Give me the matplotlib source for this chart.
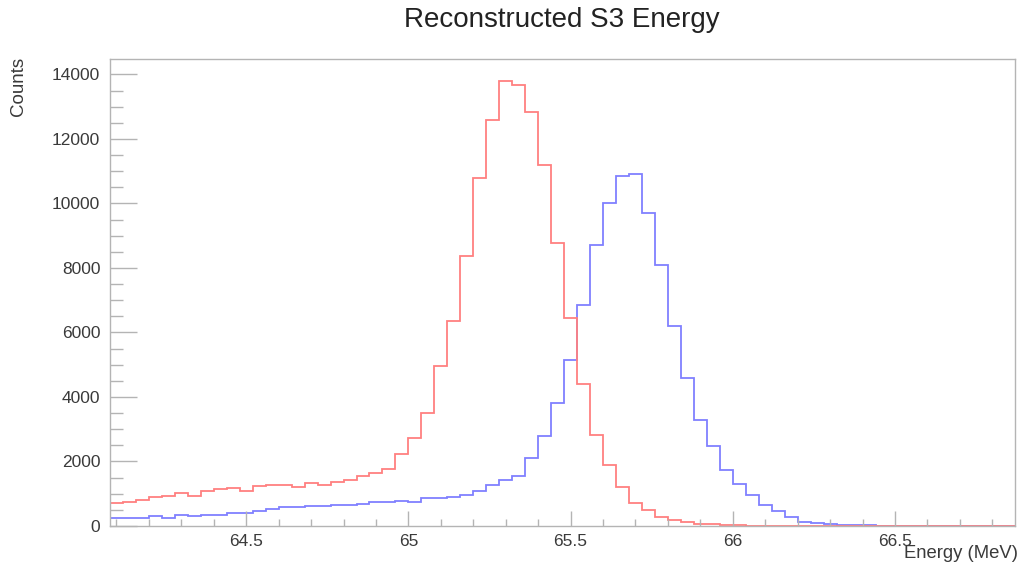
import numpy as np
import matplotlib
matplotlib.use("Agg")
import matplotlib.pyplot as plt
from matplotlib.ticker import MultipleLocator

plt.rcParams['font.family'] = ['Liberation Sans', 'DejaVu Sans']

# 70 bins, 0.04 MeV wide, from 64.08 to 66.88 MeV
e_lo, e_hi, nbins = 64.08, 66.88, 70

red_counts = [720, 745, 820, 892, 915, 1027, 944, 1099, 1161, 1182,
              1078, 1233, 1285, 1280, 1213, 1337, 1285, 1368, 1440, 1543,
              1646, 1770, 2244, 2730, 3504, 4948, 6341, 8375, 10780, 12585,
              13802, 13669, 12843, 11200, 8760, 6455, 4410, 2833, 1904, 1213,
              718, 495, 280, 190, 118, 77, 48, 35, 25, 15,
              10, 8, 5, 3, 2, 1, 0, 0, 0, 0,
              0, 0, 0, 10, 0, 0, 0, 0, 10, 0]

blue_counts = [250, 255, 260, 320, 260, 335, 305, 335, 356, 408,
               408, 459, 520, 600, 600, 605, 614, 666, 666, 670,
               740, 745, 790, 737, 872, 872, 904, 975, 1078, 1285,
               1418, 1563, 2111, 2802, 3814, 5155, 6858, 8715, 10025, 10861,
               10913, 9715, 8096, 6186, 4588, 3290, 2471, 1728, 1316, 975,
               655, 470, 265, 118, 99, 50, 45, 40, 35, 10,
               8, 5, 5, 5, 5, 5, 5, 5, 5, 5]

edges = np.linspace(e_lo, e_hi, nbins + 1)

fig = plt.figure(figsize=(10.21, 5.71), dpi=100)
ax = fig.add_axes([110 / 1021, 1 - 526 / 571, 905 / 1021, (526 - 58.5) / 571])

ax.stairs(blue_counts, edges, baseline=None, color='#8080ff', lw=1.3)
ax.stairs(red_counts, edges, baseline=None, color='#ff8080', lw=1.3)

ax.set_xlim(e_lo, 66.87)
ax.set_ylim(0, 1.05 * max(red_counts))

frame = '#b4b4b4'
for s in ax.spines.values():
    s.set_color(frame)
    s.set_linewidth(1.0)

ax.xaxis.set_major_locator(MultipleLocator(0.5))
ax.xaxis.set_minor_locator(MultipleLocator(0.1))
ax.yaxis.set_major_locator(MultipleLocator(2000))
ax.yaxis.set_minor_locator(MultipleLocator(500))
ax.xaxis.set_major_formatter(plt.FuncFormatter(lambda v, p: f"{v:g}"))

ax.tick_params(axis='x', which='major', direction='in', length=10.5, width=1.0,
               color=frame, labelsize=12.5, labelcolor='#3a3a3a', pad=6)
ax.tick_params(axis='x', which='minor', direction='in', length=5.3, width=1.0, color=frame)
ax.tick_params(axis='y', which='major', direction='in', length=19.5, width=1.0,
               color=frame, labelsize=12.5, labelcolor='#3a3a3a', pad=7)
ax.tick_params(axis='y', which='minor', direction='in', length=9.7, width=1.0, color=frame)

fig.text(562 / 1021, 1 - 20 / 571, "Reconstructed S3 Energy", ha='center', va='center',
         fontsize=20, color='#222222')
fig.text(1018 / 1021, 1 - 553 / 571, "Energy (MeV)", ha='right', va='center',
         fontsize=13.3, color='#3a3a3a')
fig.text(18 / 1021, 1 - 57 / 571, "Counts", ha='center', va='top', rotation=90,
         fontsize=13.5, color='#3a3a3a')

fig.savefig("out.png", dpi=100, facecolor='white')
